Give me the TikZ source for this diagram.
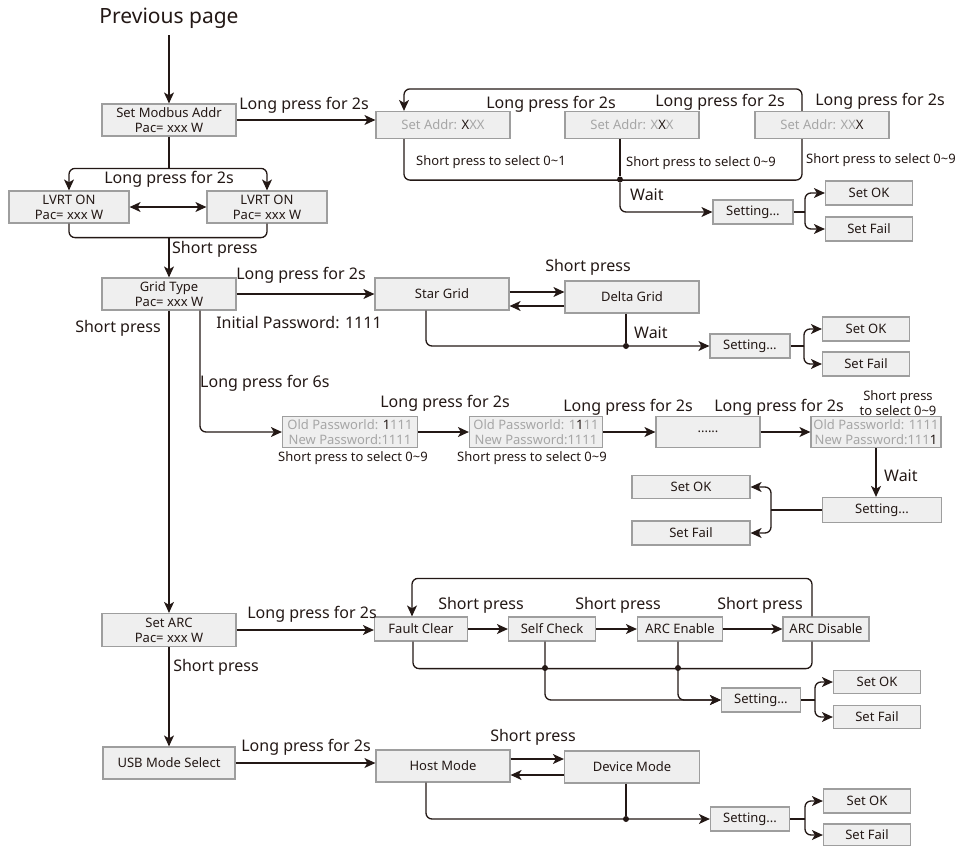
\documentclass[tikz,border=0pt]{standalone}
\usepackage{fontspec}
\setmainfont{Noto Sans}
\usetikzlibrary{arrows.meta}
\definecolor{ln}{HTML}{231815}
\definecolor{bfill}{HTML}{EFEFEF}
\definecolor{bdraw}{HTML}{9E9E9E}
\definecolor{gtxt}{HTML}{A6A6A6}
\newcommand{\gt}[1]{{\color{gtxt}#1}}
\begin{document}
\begin{tikzpicture}[x=1pt,y=-1pt,
  box/.style={draw=bdraw, fill=bfill, line width=1.2pt, inner sep=0pt, align=center,
    font=\fontsize{13}{15}\selectfont, text=ln},
  lab/.style={font=\fontsize{16}{18}\selectfont, text=ln, inner sep=0pt},
  slab/.style={font=\fontsize{13}{15}\selectfont, text=ln, inner sep=0pt, align=center},
  con/.style={draw=ln, line width=1.3pt, rounded corners=6pt},
  arr/.style={con, -{Stealth[length=11pt,width=10pt,inset=3pt]}},
  darr/.style={con, {Stealth[length=11pt,width=10pt,inset=3pt]}-{Stealth[length=11pt,width=10pt,inset=3pt]}},
  jdot/.style={circle, fill=ln, inner sep=0pt, minimum size=6pt},
]
\useasboundingbox (0,0) rectangle (962,846);

% ---------- nodes ----------
\node[font=\fontsize{21}{23}\selectfont, text=ln, inner sep=0pt] (prev) at (169,18) {Previous page};
\node[box, minimum width=134pt, minimum height=32pt] (modbus) at (169,120) {Set Modbus Addr\\Pac= xxx W};
\node[box, minimum width=134pt, minimum height=27pt] (addr1) at (443,125) {\gt{Set Addr: }X\gt{XX}};
\node[box, minimum width=134pt, minimum height=27pt] (addr2) at (632,125) {\gt{Set Addr: X}X\gt{X}};
\node[box, minimum width=134pt, minimum height=27pt] (addr3) at (822,125) {\gt{Set Addr: XX}X};
\node[box, minimum width=80pt, minimum height=24pt] (sett1) at (753,212) {Setting…};
\node[box, minimum width=87pt, minimum height=24pt] (ok1) at (869,193) {Set OK};
\node[box, minimum width=87pt, minimum height=24pt] (fail1) at (869,229) {Set Fail};

\node[box, minimum width=120pt, minimum height=32pt] (lvrt1) at (69,207) {LVRT ON\\Pac= xxx W};
\node[box, minimum width=120pt, minimum height=32pt] (lvrt2) at (267,207) {LVRT ON\\Pac= xxx W};

\node[box, minimum width=134pt, minimum height=32pt] (grid) at (169,294) {Grid Type\\Pac= xxx W};
\node[box, minimum width=134pt, minimum height=32pt] (star) at (442,294) {Star Grid};
\node[box, minimum width=134pt, minimum height=32pt] (delta) at (632,297) {Delta Grid};
\node[box, minimum width=80pt, minimum height=24pt] (sett2) at (750,346) {Setting…};
\node[box, minimum width=87pt, minimum height=24pt] (ok2) at (866,329) {Set OK};
\node[box, minimum width=87pt, minimum height=24pt] (fail2) at (866,364) {Set Fail};

\node[box, minimum width=135pt, minimum height=31pt] (old1) at (350,432) {\gt{Old Passworld: }1\gt{111}\\\gt{New Password:1111}};
\node[box, minimum width=133pt, minimum height=31pt] (old2) at (536,432) {\gt{Old Passworld: 1}1\gt{11}\\\gt{New Password:1111}};
\node[box, minimum width=104pt, minimum height=31pt] (olddots) at (708,432) {......};
\node[box, minimum width=130pt, minimum height=31pt] (old4) at (876,432) {\gt{Old Passworld: 1111}\\\gt{New Password:111}1};
\node[box, minimum width=119pt, minimum height=25pt] (sett3) at (882,510) {Setting...};
\node[box, minimum width=118pt, minimum height=23pt] (ok3) at (691,487) {Set OK};
\node[box, minimum width=118pt, minimum height=24pt] (fail3) at (691,533) {Set Fail};

\node[box, minimum width=134pt, minimum height=33pt] (arc) at (169,630) {Set ARC\\Pac= xxx W};
\node[box, minimum width=93pt, minimum height=24pt] (fault) at (421,629) {Fault Clear};
\node[box, minimum width=87pt, minimum height=24pt] (self) at (552,629) {Self Check};
\node[box, minimum width=85pt, minimum height=24pt] (arcen) at (680,629) {ARC Enable};
\node[box, minimum width=86pt, minimum height=24pt] (arcdis) at (826,629) {ARC Disable};
\node[box, minimum width=79pt, minimum height=24pt] (sett4) at (761,700) {Setting…};
\node[box, minimum width=87pt, minimum height=23pt] (ok4) at (877,682) {Set OK};
\node[box, minimum width=87pt, minimum height=23pt] (fail4) at (877,717) {Set Fail};

\node[box, minimum width=132pt, minimum height=32pt] (usb) at (169,763) {USB Mode Select};
\node[box, minimum width=134pt, minimum height=32pt] (host) at (443,766) {Host Mode};
\node[box, minimum width=135pt, minimum height=32pt] (device) at (632,767) {Device Mode};
\node[box, minimum width=79pt, minimum height=24pt] (sett5) at (750,819) {Setting...};
\node[box, minimum width=87pt, minimum height=24pt] (ok5) at (867,801) {Set OK};
\node[box, minimum width=87pt, minimum height=22pt] (fail5) at (867,835) {Set Fail};

% ---------- junctions ----------
\node[jdot] (d1) at (620,179.5) {};
\node[jdot] (d2) at (626,346) {};
\node[jdot] (d4a) at (545,668) {};
\node[jdot] (d4b) at (678,668) {};
\node[jdot] (d5) at (626,819) {};
\coordinate (s1) at (805,212);
\coordinate (s2) at (804,346);
\coordinate (s3) at (771,510);
\coordinate (s4) at (815,700);
\coordinate (s5) at (805,819);
\coordinate (j1) at (169,169);
\coordinate (j2) at (169,237);

% ---------- connectors: top ----------
\draw[arr] ([yshift=-7pt]prev.south) -- (modbus.north);
\draw[arr] (modbus.east) -- (modbus.east -| addr1.west);
\draw[arr] ([xshift=-20pt]addr3.north) -- ++(0,-22) -| ([xshift=-39pt]addr1.north);
\draw[con] ([xshift=-39pt]addr1.south) -- ++(0,41) -| ([xshift=-20pt]addr3.south);
\draw[con] ([xshift=-12pt]addr2.south) -- (d1);
\draw[arr] (d1) |- (sett1.west);
\draw[con] (sett1.east) -- (s1);
\draw[arr] (s1) |- (ok1.west);
\draw[arr] (s1) |- (fail1.west);

% LVRT
\draw[con] (modbus.south) -- (j1);
\draw[darr] (lvrt1.north) -- ++(0,-22) -| (lvrt2.north);
\draw[darr] (lvrt1.east) -- (lvrt2.west);
\draw[con] (lvrt1.south) -- ++(0,14) -| (lvrt2.south);
\draw[arr] (j2) -- (grid.north);

% Grid type
\draw[arr] (grid.east) -- (star.west);
\draw[arr] ([yshift=2pt]star.east) -- ([yshift=2pt]star.east -| delta.west);
\draw[arr] ([yshift=-9pt]delta.west) -- ([yshift=-9pt]delta.west -| star.east);
\draw[arr] ([xshift=-16pt]star.south) |- (sett2.west);
\draw[con] ([xshift=-6pt]delta.south) -- (d2);
\draw[con] (sett2.east) -- (s2);
\draw[arr] (s2) |- (ok2.west);
\draw[arr] (s2) |- (fail2.west);

% Password
\draw[arr] ([xshift=31pt]grid.south) |- (old1.west);
\draw[arr] (old1.east) -- (old2.west);
\draw[arr] (old2.east) -- (olddots.west);
\draw[arr] (olddots.east) -- (old4.west);
\draw[arr] (old4.south) -- (old4.south |- sett3.north);
\draw[con] (sett3.west) -- (s3);
\draw[arr] (s3) |- (ok3.east);
\draw[arr] (s3) |- (fail3.east);

% main line
\draw[arr] (grid.south) -- (arc.north);

% ARC
\draw[arr] (arc.east) -- (arc.east -| fault.west);
\draw[arr] (fault.east) -- (self.west);
\draw[arr] (self.east) -- (arcen.west);
\draw[arr] (arcen.east) -- (arcdis.west);
\draw[arr] ([xshift=-14pt]arcdis.north) -- ++(0,-38) -| ([xshift=-9pt]fault.north);
\draw[con] ([xshift=-8pt]fault.south) -- ++(0,27) -| ([xshift=-14pt]arcdis.south);
\draw[arr] ([xshift=-7pt]self.south) |- (sett4.west);
\draw[arr] ([xshift=-2pt]arcen.south) |- (sett4.west);
\draw[con] (sett4.east) -- (s4);
\draw[arr] (s4) |- (ok4.west);
\draw[arr] (s4) |- (fail4.west);

% USB
\draw[arr] (arc.south) -- (usb.north);
\draw[arr] (usb.east) -- (usb.east -| host.west);
\draw[arr] ([yshift=7pt]host.east) -- ([yshift=7pt]host.east -| device.west);
\draw[arr] ([yshift=-8pt]device.west) -- ([yshift=-8pt]device.west -| host.east);
\draw[arr] ([xshift=-17pt]host.south) |- (sett5.west);
\draw[con] ([xshift=-6pt]device.south) -- (d5);
\draw[con] (sett5.east) -- (s5);
\draw[arr] (s5) |- (ok5.west);
\draw[arr] (s5) |- (fail5.west);

% ---------- labels ----------
\node[lab] (l1) at (304,105) {Long press for 2s};
\node[lab] (l2) at (551,104) {Long press for 2s};
\node[lab] (l3) at (720,102) {Long press for 2s};
\node[lab] (l4) at (880,101) {Long press for 2s};
\node[slab] (l5) at (491,162) {Short press to select 0\char"007E 1};
\node[slab] (l6) at (701,163) {Short press to select 0\char"007E 9};
\node[slab, anchor=west] (l7) at (806,160) {Short press to select 0\char"007E 9};
\node[lab, anchor=west] (l8) at (630,195) {Wait};
\node[lab] (l9) at (169,179) {Long press for 2s};
\node[lab, anchor=west] (l10) at (172,249) {Short press};
\node[lab] (l11) at (301,275) {Long press for 2s};
\node[lab] (l12) at (299,323) {Initial Password: 1111};
\node[lab] (l13) at (588,267) {Short press};
\node[lab, anchor=west] (l14) at (634,333) {Wait};
\node[lab] (l15) at (118,328) {Short press};
\node[lab, anchor=west] (l16) at (200,383) {Long press for 6s};
\node[lab] (l17) at (445,403) {Long press for 2s};
\node[lab] (l18) at (628,407) {Long press for 2s};
\node[lab] (l19) at (779,407) {Long press for 2s};
\node[slab] (l20) at (898,403) {Short press\\to select 0\char"007E 9};
\node[slab] (l21) at (353,458) {Short press to select 0\char"007E 9};
\node[slab] (l22) at (532,458) {Short press to select 0\char"007E 9};
\node[lab, anchor=west] (l23) at (884,476) {Wait};
\node[lab] (l24) at (312,614) {Long press for 2s};
\node[lab] (l25) at (481,605) {Short press};
\node[lab] (l26) at (618,605) {Short press};
\node[lab] (l27) at (760,605) {Short press};
\node[lab] (l28) at (216,667) {Short press};
\node[lab] (l29) at (306,747) {Long press for 2s};
\node[lab] (l30) at (533,737) {Short press};
\end{tikzpicture}
\end{document}
